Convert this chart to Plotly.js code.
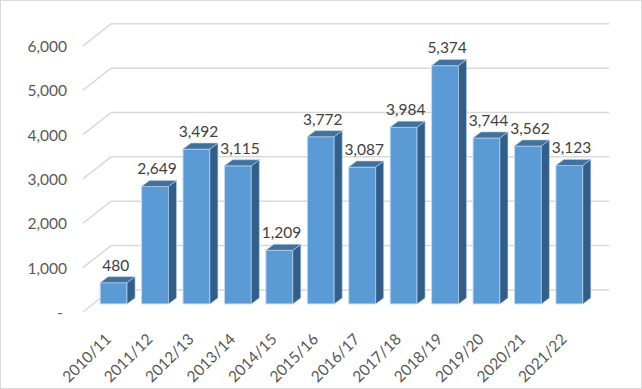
<!DOCTYPE html>
<html>
<head>
<meta charset="utf-8">
<script src="https://cdn.plot.ly/plotly-3.0.1.min.js"></script>
<style>
  html, body { margin: 0; padding: 0; background: #fff; }
  #chart { width: 640px; height: 387px; border: 1px solid #D9D9D9; }
</style>
</head>
<body>
<div id="chart"></div>
<script>
// ---- data ----
const categories = ['2010/11','2011/12','2012/13','2013/14','2014/15','2015/16',
                    '2016/17','2017/18','2018/19','2019/20','2020/21','2021/22'];
const values = [480, 2649, 3492, 3115, 1209, 3772, 3087, 3984, 5374, 3744, 3562, 3123];
const gridValues = [0, 1000, 2000, 3000, 4000, 5000, 6000];
const gridLabels = ['-\u00a0', '1,000', '2,000', '3,000', '4,000', '5,000', '6,000'];

// ---- 3D look parameters (in axis units) ----
const barWidth = 0.65;
const depthX = 0.193;   // bar depth, horizontal
const depthY = 136;     // bar depth, vertical
const wallX0 = -0.06, wallX1 = 11.96;     // back wall extent
const wallShift = 317;                    // back wall vertical offset
const frontX = -0.74, frontShift = -181;  // front edge of floor/grid

const idx = categories.map((_, i) => i);
const fmt = v => v.toLocaleString('en-US');

// side and top faces
const sideX = [], sideY = [], topX = [], topY = [];
values.forEach((v, i) => {
  const xl = i - barWidth / 2, xr = i + barWidth / 2;
  sideX.push(xr, xr, xr + depthX, xr + depthX, xr, null);
  sideY.push(0, v, v + depthY, depthY, 0, null);
  topX.push(xl, xr, xr + depthX, xl + depthX, xl, null);
  topY.push(v, v, v + depthY, v + depthY, v, null);
});

const traces = [
  {
    type: 'bar', x: idx, y: values, width: barWidth,
    marker: { color: '#5B9BD5', line: { color: '#C5DCF0', width: 1 } },
    hoverinfo: 'skip'
  },
  {
    type: 'scatter', mode: 'lines', x: sideX, y: sideY, fill: 'toself',
    fillcolor: '#325F8A', line: { color: '#B9D1EA', width: 0.6 },
    hoverinfo: 'skip', connectgaps: false
  },
  {
    type: 'scatter', mode: 'lines', x: topX, y: topY, fill: 'toself',
    fillcolor: '#41719C', line: { color: '#B9D1EA', width: 0.6 },
    hoverinfo: 'skip', connectgaps: false
  },
  {
    type: 'scatter', mode: 'text', x: idx.map(i => i + 0.05),
    y: values.map(v => v + depthY + 50), text: values.map(fmt),
    textposition: 'top center', cliponaxis: false,
    textfont: { family: 'Lato, sans-serif', size: 15.5, color: '#404040' },
    hoverinfo: 'skip'
  },
  { type: 'scatter', x: [null], y: [null], yaxis: 'y2', hoverinfo: 'skip' }
];

// grid lines: back wall + diagonal to the front
const shapes = [];
gridValues.forEach(g => {
  shapes.push({ type: 'line', layer: 'below', xref: 'x', yref: 'y',
    x0: wallX0, x1: wallX1, y0: g + wallShift, y1: g + wallShift,
    line: { color: '#D9D9D9', width: 1.5 } });
  shapes.push({ type: 'line', layer: 'below', xref: 'x', yref: 'y',
    x0: wallX0, x1: frontX, y0: g + wallShift, y1: g + frontShift,
    line: { color: '#D9D9D9', width: 1.5 } });
});

const layout = {
  width: 640, height: 387,
  margin: { l: 70, r: 9, t: 19, b: 67 },
  paper_bgcolor: '#fff', plot_bgcolor: 'rgba(0,0,0,0)',
  showlegend: false,
  font: { family: 'Lato, sans-serif', size: 15.5, color: '#595959' },
  xaxis: {
    range: [-1.028, 12.512], tickvals: idx, ticktext: categories,
    tickangle: -45, showgrid: false, zeroline: false, showline: false, ticks: '',
    ticklabelshift: -7, ticklabelstandoff: 5,
    tickfont: { family: 'Lato, sans-serif', size: 15.5, color: '#595959' }
  },
  yaxis: {
    range: [-384.6, 6402.7], showgrid: false, zeroline: false,
    showline: false, showticklabels: false, ticks: ''
  },
  yaxis2: {
    overlaying: 'y', side: 'left', range: [-192.3, 6595],
    tickvals: gridValues, ticktext: gridLabels, ticklabelstandoff: 3,
    showgrid: false, zeroline: false, showline: false, ticks: '',
    tickfont: { family: 'Lato, sans-serif', size: 15.5, color: '#595959' }
  },
  shapes: shapes
};

Plotly.newPlot('chart', traces, layout, { displayModeBar: false, staticPlot: true });
</script>
</body>
</html>
